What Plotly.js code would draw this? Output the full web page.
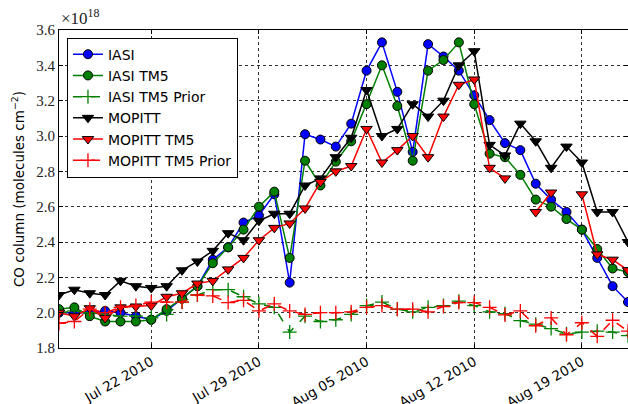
<!DOCTYPE html>
<html>
<head>
<meta charset="utf-8">
<script src="https://cdn.plot.ly/plotly-3.0.1.min.js"></script>
<style>
  html, body { margin: 0; padding: 0; background: #fff; }
  #chart { width: 628px; height: 404px; }
</style>
</head>
<body>
<div id="chart"></div>
<script>
// Dates (daily, 16 Jul 2010 .. 22 Aug 2010)
const dates = [
  "2010-07-16","2010-07-17","2010-07-18","2010-07-19","2010-07-20","2010-07-21","2010-07-22","2010-07-23",
  "2010-07-24","2010-07-25","2010-07-26","2010-07-27","2010-07-28","2010-07-29","2010-07-30","2010-07-31",
  "2010-08-01","2010-08-02","2010-08-03","2010-08-04","2010-08-05","2010-08-06","2010-08-07","2010-08-08",
  "2010-08-09","2010-08-10","2010-08-11","2010-08-12","2010-08-13","2010-08-14","2010-08-15","2010-08-16",
  "2010-08-17","2010-08-18","2010-08-19","2010-08-20","2010-08-21","2010-08-22"
];

// CO column values, units of 1e18 molecules cm^-2
const iasi = [2.00,2.00,2.00,2.01,2.00,1.98,1.96,2.01,2.08,2.15,2.30,2.37,2.51,2.55,2.67,2.17,
  3.01,2.98,2.94,3.07,3.37,3.53,3.25,2.91,3.52,3.45,3.37,3.23,3.09,2.96,2.92,2.73,2.64,2.57,2.47,2.31,2.15,2.06];
const iasiTM5 = [2.02,2.03,1.98,1.95,1.95,1.95,1.96,2.02,2.08,2.15,2.28,2.37,2.47,2.60,2.685,2.31,
  2.86,2.72,2.855,2.97,3.18,3.40,3.17,2.86,3.37,3.43,3.53,3.18,2.90,2.88,2.78,2.64,2.60,2.53,2.47,2.36,2.25,2.23];
const iasiTM5Prior = [2.00,2.01,2.00,1.99,1.98,1.98,1.97,1.99,2.06,2.10,2.13,2.13,2.09,2.05,2.03,1.89,
  1.98,1.95,1.96,1.99,2.04,2.06,2.02,2.005,2.03,2.04,2.065,2.04,2.005,1.995,1.955,1.935,1.91,1.88,1.89,1.895,1.89,1.87];
const mopitt = [2.10,2.13,2.11,2.10,2.18,2.15,2.14,2.15,2.24,2.29,2.35,2.45,2.41,2.52,2.56,2.56,
  2.72,2.76,2.88,2.99,3.26,3.00,3.04,3.18,3.11,3.20,3.40,3.48,2.95,2.89,3.07,2.97,2.82,2.94,2.85,2.57,2.57,2.40];
const mopittTM5 = [2.00,1.98,2.025,1.97,2.03,2.035,2.04,2.09,2.11,2.165,2.18,2.245,2.31,2.41,2.48,2.505,
  2.59,2.74,2.80,2.83,3.04,2.85,2.92,3.00,2.88,3.11,3.29,3.32,2.82,2.76,null,2.57,2.68,null,2.67,2.33,2.30,2.24];
const mopittTM5Prior = [1.94,1.95,2.02,2.00,2.03,2.04,2.06,2.06,2.06,2.10,2.095,2.057,2.07,2.01,2.05,2.01,
  1.99,2.00,2.00,2.005,2.03,2.04,2.02,2.02,2.005,2.035,2.057,2.057,2.03,1.987,2.01,1.926,1.97,1.875,1.943,1.866,1.957,1.895];

const xTicks = ["2010-07-22","2010-07-29","2010-08-05","2010-08-12","2010-08-19"];
const yTicks = [1.8,2.0,2.2,2.4,2.6,2.8,3.0,3.2,3.4,3.6];

const BLUE = "#0000ff", GREEN = "#008000", RED = "#ff0000", BLACK = "#000000";
const SANS = "DejaVu Sans, Verdana, sans-serif";
const SERIF = "Liberation Serif, DejaVu Serif, serif";

function solid(name, y, color, symbol, size) {
  return {
    type: "scatter", mode: "lines+markers", name: name, x: dates, y: y,
    line: { color: color, width: 1.5 },
    marker: { symbol: symbol, size: size, color: color, line: { color: BLACK, width: 1 } },
    connectgaps: false
  };
}
function prior(name, y, color) {
  return {
    type: "scatter", mode: "lines+markers", name: name, x: dates, y: y,
    line: { color: color, width: 1.5, dash: "dash" },
    marker: { symbol: "cross-thin", size: 10, color: color, line: { color: color, width: 1.3 } }
  };
}

const traces = [
  solid("IASI", iasi, BLUE, "circle", 9),
  solid("IASI TM5", iasiTM5, GREEN, "circle", 9),
  prior("IASI TM5 Prior", iasiTM5Prior, GREEN),
  solid("MOPITT", mopitt, BLACK, "triangle-down", 10),
  solid("MOPITT TM5", mopittTM5, RED, "triangle-down", 10),
  prior("MOPITT TM5 Prior", mopittTM5Prior, RED)
];

const axisCommon = {
  showline: true, linecolor: BLACK, linewidth: 1, mirror: "allticks",
  ticks: "inside", ticklen: 4, tickcolor: BLACK, tickwidth: 1,
  showgrid: true, gridcolor: BLACK, gridwidth: 0.8, griddash: "dot",
  zeroline: false
};

const layout = {
  width: 628, height: 404,
  margin: { l: 59, r: 0, t: 30, b: 56 },
  paper_bgcolor: "#ffffff", plot_bgcolor: "#ffffff",
  showlegend: true,
  legend: {
    x: 0.014, y: 0.976, xanchor: "left", yanchor: "top",
    bgcolor: "#ffffff", bordercolor: BLACK, borderwidth: 1,
    font: { family: SANS, size: 14, color: BLACK },
    tracegroupgap: 0
  },
  xaxis: Object.assign({}, axisCommon, {
    type: "date",
    range: ["2010-07-16", "2010-08-22"],
    tickmode: "array", tickvals: xTicks, tickformat: "%b %d %Y",
    tickangle: -30,
    tickfont: { family: SANS, size: 13.5, color: BLACK }
  }),
  yaxis: Object.assign({}, axisCommon, {
    range: [1.8, 3.6],
    tickmode: "array", tickvals: yTicks, tickformat: ".1f",
    tickfont: { family: SERIF, size: 15, color: "#222222" },
    title: {
      text: "CO column (molecules cm<sup>−2</sup>)",
      font: { family: SANS, size: 13.5, color: BLACK },
      standoff: 8
    }
  }),
  annotations: [{
    xref: "paper", yref: "paper", x: 0, y: 1, xanchor: "left", yanchor: "bottom",
    text: "×10<sup>18</sup>", showarrow: false, yshift: 0,
    font: { family: SERIF, size: 17, color: "#222222" }
  }]
};

Plotly.newPlot("chart", traces, layout, { displayModeBar: false, staticPlot: true });
</script>
</body>
</html>
